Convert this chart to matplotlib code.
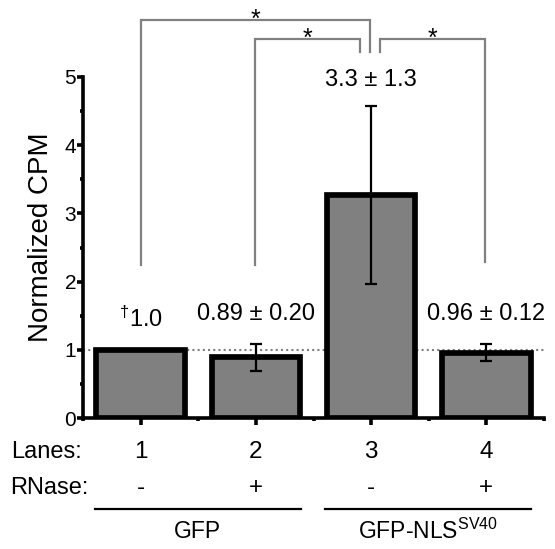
import matplotlib
matplotlib.use("Agg")
import matplotlib.pyplot as plt
import numpy as np

plt.rcParams['font.family'] = ['Liberation Sans', 'DejaVu Sans']
plt.rcParams['mathtext.fontset'] = 'custom'
plt.rcParams['mathtext.rm'] = 'Liberation Sans'
plt.rcParams['mathtext.it'] = 'Liberation Sans:italic'

lanes = ["1", "2", "3", "4"]
rnase = ["-", "+", "-", "+"]
values = [1.0, 0.89, 3.27, 0.96]
errors = [0.0, 0.20, 1.30, 0.12]
labels = ["$^{\u2020}$1.0", "0.89 \u00b1 0.20", "3.3 \u00b1 1.3", "0.96 \u00b1 0.12"]
label_y = [1.44, 1.52, 4.96, 1.52]
groups = ["GFP", "GFP-NLS$^{\\mathrm{SV40}}$"]
group_spans = [(-0.40, 1.39), (1.60, 3.39)]
# brackets: (x1, x2, y_top, y_left_end, y_right_end)
brackets = [(0, 1.99, 5.84, 2.24, 5.37),
            (0.99, 1.90, 5.56, 2.24, 5.37),
            (2.08, 2.99, 5.56, 5.37, 2.29)]

fig = plt.figure(figsize=(5.55, 5.49), dpi=100)
ax = fig.add_axes([83/555, 1-418/549, (544-83)/555, (418-77)/549])

x = np.arange(len(values))
ax.axhline(1.0, color='#808080', linestyle=(0, (1, 1.5)), linewidth=1.5, zorder=0)
ax.bar(x, values, width=0.77, color='#808080', edgecolor='black', linewidth=4.1, zorder=2)
for xi, v, e in zip(x, values, errors):
    if e > 0:
        ax.errorbar(xi, v, yerr=e, fmt='none', ecolor='black', elinewidth=1.6,
                    capsize=4, capthick=1.6, zorder=3)

ax.set_xlim(-0.5, 3.5)
ax.set_ylim(0, 5)
for s in ['top', 'right']:
    ax.spines[s].set_visible(False)
for s in ['left', 'bottom']:
    ax.spines[s].set_linewidth(2.6)
ax.set_yticks([0, 1, 2, 3, 4, 5])
ax.set_yticks(np.arange(0.5, 5, 1.0), minor=True)
ax.set_xticks(x)
ax.set_xticks(np.arange(-0.5, 3.6, 1.0), minor=True)
ax.set_xticklabels([])
ax.tick_params(axis='y', which='major', length=4, width=2.6, labelsize=15, pad=1)
ax.tick_params(axis='y', which='minor', length=2, width=2.6)
ax.tick_params(axis='x', which='major', length=5, width=2.6)
ax.tick_params(axis='x', which='minor', length=2.5, width=2.6)
ax.set_ylabel("Normalized CPM", fontsize=20)
ax.yaxis.set_label_coords(-0.062, 0.53)

for xi, lab, ly in zip(x, labels, label_y):
    ax.text(xi, ly, lab, ha='center', va='center', fontsize=17)

# significance brackets
for x1, x2, yt, yl, yr in brackets:
    ax.plot([x1, x1, x2, x2], [yl, yt, yt, yr], color='#808080', lw=1.6,
            clip_on=False, solid_joinstyle='miter')
ax.text(0.995, 5.74, "*", ha='center', va='baseline', fontsize=18, clip_on=False)
ax.text(1.45, 5.46, "*", ha='center', va='baseline', fontsize=18, clip_on=False)
ax.text(2.53, 5.46, "*", ha='center', va='baseline', fontsize=18, clip_on=False)

# bottom labels
ax.text(-0.513, -0.50, "Lanes:", ha='right', va='center', fontsize=17, clip_on=False)
ax.text(-0.452, -1.03, "RNase:", ha='right', va='center', fontsize=17, clip_on=False)
for xi, ln, rn in zip(x, lanes, rnase):
    ax.text(xi, -0.50, ln, ha='center', va='center', fontsize=17.5, clip_on=False)
    ax.text(xi, -1.03, rn, ha='center', va='center', fontsize=17.5, clip_on=False)
for (a, b), g in zip(group_spans, groups):
    ax.plot([a, b], [-1.33, -1.33], color='black', lw=1.6, clip_on=False)
    ax.text((a + b) / 2, -1.66, g, ha='center', va='center', fontsize=16.5, clip_on=False)

fig.savefig("out.png", dpi=100)
